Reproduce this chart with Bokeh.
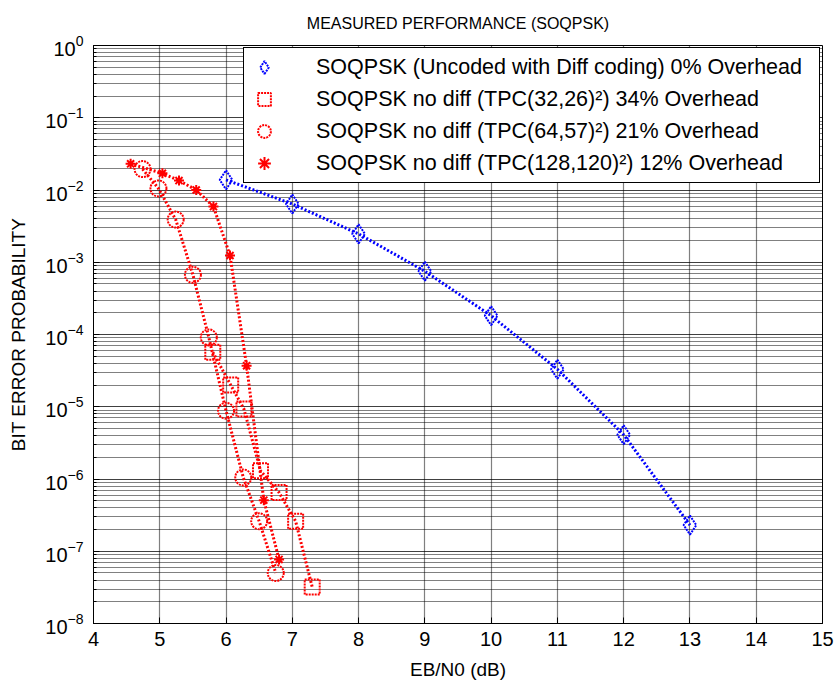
from bokeh.plotting import figure
from bokeh.models import FixedTicker, Legend, LegendItem
from bokeh.embed import file_html
from bokeh.resources import INLINE

# ---- texts ----
title_text = "MEASURED PERFORMANCE (SOQPSK)"
x_label = "EB/N0 (dB)"
y_label = "BIT ERROR PROBABILITY"
x_ticks = [4, 5, 6, 7, 8, 9, 10, 11, 12, 13, 14, 15]

# ---- data ----
ebn0_uncoded = [6, 7, 8, 9, 10, 11, 12, 13]
ber_uncoded = [1.38e-2, 6.4e-3, 2.47e-3, 7.5e-4, 1.82e-4, 3.3e-5, 4.1e-6, 2.3e-7]

ebn0_tpc32 = [5.8, 6.07, 6.27, 6.52, 6.8, 7.05, 7.3]
ber_tpc32 = [5.7e-5, 2.0e-5, 9.3e-6, 1.3e-6, 6.5e-7, 2.6e-7, 3.2e-8]

ebn0_tpc64 = [4.74, 4.98, 5.24, 5.5, 5.74, 6.0, 6.26, 6.5, 6.75]
ber_tpc64 = [1.95e-2, 1.05e-2, 3.9e-3, 6.7e-4, 9.1e-5, 8.8e-6, 1.05e-6, 2.6e-7, 5.0e-8]

ebn0_tpc128 = [4.56, 5.04, 5.29, 5.55, 5.81, 6.06, 6.31, 6.57, 6.80]
ber_tpc128 = [2.3e-2, 1.7e-2, 1.35e-2, 1.0e-2, 5.9e-3, 1.24e-3, 3.7e-5, 5.1e-7, 7.7e-8]

series_labels = [
    "SOQPSK (Uncoded with Diff coding) 0% Overhead",
    "SOQPSK no diff (TPC(32,26)\u00b2) 34% Overhead",
    "SOQPSK no diff (TPC(64,57)\u00b2) 21% Overhead",
    "SOQPSK no diff (TPC(128,120)\u00b2) 12% Overhead",
]

FONT = "Liberation Sans"

p = figure(
    width=839, height=684,
    x_range=(4, 15), y_range=(1e-8, 1),
    y_axis_type="log",
    output_backend="svg", toolbar_location=None,
    min_border_left=93, min_border_right=17, min_border_top=45, min_border_bottom=61,
    background_fill_color="white", border_fill_color="white",
)

# title
p.title.text = title_text
p.title.align = "center"
p.title.vertical_align = "top"
p.title.text_font = FONT
p.title.text_font_size = "16px"
p.title.text_font_style = "normal"
p.title.text_color = "black"
p.title.standoff = 24

# frame
p.outline_line_color = "black"
p.outline_line_width = 1
p.outline_line_alpha = 1

# axes
p.xaxis.ticker = FixedTicker(ticks=x_ticks)
p.xaxis.axis_label = x_label
p.yaxis.axis_label = y_label
for ax in (p.xaxis, p.yaxis):
    ax.axis_label_text_font = FONT
    ax.axis_label_text_font_size = "19px"
    ax.axis_label_text_font_style = "normal"
    ax.major_label_text_font = FONT
    ax.major_label_text_font_size = "20px"
    ax.major_tick_in = 6
    ax.major_tick_out = 0
    ax.minor_tick_in = 3
    ax.minor_tick_out = 0
    ax.axis_line_color = "black"
    ax.major_tick_line_color = "black"
    ax.minor_tick_line_color = "black"
    ax.major_label_text_color = "black"
    ax.axis_label_text_color = "black"
p.xaxis.minor_tick_line_color = None
p.xaxis.major_label_standoff = 8
p.xaxis.axis_label_standoff = 10
p.yaxis.major_label_standoff = 10
p.yaxis.axis_label_standoff = 13

# grids
for g in (p.xgrid, p.ygrid):
    g.grid_line_color = "black"
    g.grid_line_dash = "1 1"
    g.grid_line_alpha = 1
    g.grid_line_width = 1.2
p.ygrid.minor_grid_line_color = "black"
p.ygrid.minor_grid_line_dash = "1 1"
p.ygrid.minor_grid_line_alpha = 1
p.ygrid.minor_grid_line_width = 1.2

LW = 3
DASH = "2 2"
MDASH = "2 1"

p.line(ebn0_uncoded, ber_uncoded, line_color="blue", line_width=LW, line_dash=DASH)
r0 = p.scatter(ebn0_uncoded, ber_uncoded, marker="diamond", size=19, fill_color=None,
               line_color="blue", line_width=2, line_dash=MDASH)

p.line(ebn0_tpc32, ber_tpc32, line_color="red", line_width=LW, line_dash=DASH)
r1 = p.scatter(ebn0_tpc32, ber_tpc32, marker="square", size=15, fill_color=None,
               line_color="red", line_width=2, line_dash=MDASH)

p.line(ebn0_tpc64, ber_tpc64, line_color="red", line_width=LW, line_dash=DASH)
r2 = p.scatter(ebn0_tpc64, ber_tpc64, marker="circle", size=16, fill_color=None,
               line_color="red", line_width=2, line_dash=MDASH)

p.line(ebn0_tpc128, ber_tpc128, line_color="red", line_width=LW, line_dash=DASH)
r3 = p.scatter(ebn0_tpc128, ber_tpc128, marker="asterisk", size=10, fill_color=None,
               line_color="red", line_width=2)

legend = Legend(
    items=[LegendItem(label=series_labels[i], renderers=[r]) for i, r in enumerate([r0, r1, r2, r3])],
    location="top_right",
    margin=2, padding=3, spacing=0,
    glyph_width=34, glyph_height=32,
    label_standoff=35, label_height=32, label_width=500,
    label_text_font=FONT, label_text_font_size="21.5px", label_text_color="black",
    border_line_color="black", border_line_width=1, border_line_alpha=1,
    background_fill_color="white", background_fill_alpha=1,
)
p.add_layout(legend)

open("out.html", "w").write(file_html(p, INLINE))
